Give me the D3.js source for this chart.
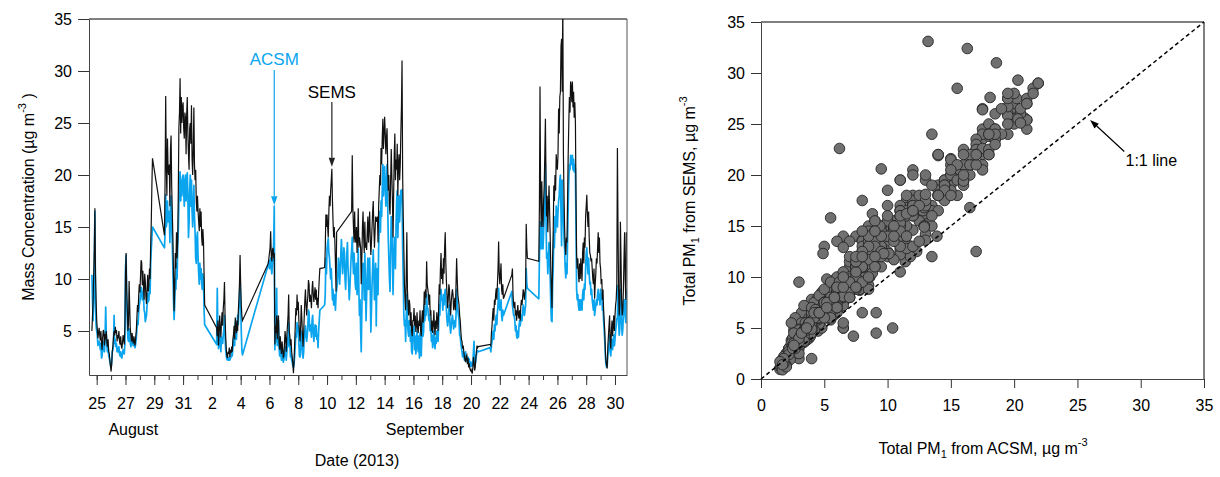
<!DOCTYPE html>
<html>
<head>
<meta charset="utf-8">
<script src="https://cdn.jsdelivr.net/npm/d3@7"></script>
<style>
  body { margin: 0; background: #fff; }
  svg { display: block; }
  text { font-family: "Liberation Sans", Arial, Helvetica, sans-serif; fill: #000; }
</style>
</head>
<body>
<svg id="fig" width="1220" height="477"></svg>
<script>
// Hourly PM1 mass concentration (µg m-3). One row per day; the first row starts
// at 24 Aug 2013 16:00, every other row at 00:00. null = no measurement.
const firstDay = new Date(2013, 7, 24);
const firstHour = 16;
const gap = n => Array(n).fill(null);

const semsHourly = [
  [5.0, 6.5, 8.0, 10.5, 12.8, 16.8, 10.5, 8.0],                                                                   // Aug 24
  [6.0, 5.2, 4.3, 4.8, 5.3, 4.6, 4.1, 5.0, 3.8, 3.2, 4.4, 5.1, 4.9, 3.6, 4.7, 4.2, 5.0, 3.9, 3.5, 4.2, 3.0, 2.8, 2.2, 1.6], // Aug 25
  [1.1, 1.8, 3.0, 3.6, 4.4, 5.0, 4.6, 5.4, 4.8, 5.1, 4.0, 4.6, 4.3, 5.0, 4.0, 3.7, 4.5, 3.6, 3.3, 3.9, 4.6, 4.2, 3.7, 5.5], // Aug 26
  [10.5, 12.5, 9.0, 7.2, 5.0, 5.6, 9.8, 7.4, 5.2, 4.6, 4.0, 4.8, 4.2, 3.8, 4.5, 4.0, 3.6, 4.4, 5.0, 6.3, 7.5, 6.8, 8.4, 9.5], // Aug 27
  [8.7, 10.2, 11.8, 11.6, 9.4, 10.8, 9.2, 8.0, 10.5, 9.8, 8.3, 7.6, 9.0, 10.4, 8.8, 9.5, 11.0, 10.0, 13.3, 15.5, 19.0, 21.6, null, null], // Aug 28
  [...gap(17), 14.2, 19.5, 27.6, 21.0, 18.0, 23.5, 20.5],                                                          // Aug 29
  [20.0, 21.0, 17.0, 22.5, 23.8, 19.0, 16.5, 14.0, 10.5, 6.9, 9.0, 12.5, 11.0, 14.5, 12.0, 13.6, 18.0, 24.5, 26.0, 29.3, 24.0, 27.5, 25.0, 26.5], // Aug 30
  [27.0, 24.5, 23.5, 26.0, 25.5, 22.0, 25.8, 27.5, 24.0, 22.0, 20.5, 24.5, 25.0, 23.0, 26.7, 21.5, 20.0, 22.5, 26.5, 21.0, 19.5, 20.5, 17.5, 16.5], // Aug 31
  [18.0, 16.5, 15.5, 14.6, 16.8, 15.0, 16.5, 14.0, 13.2, 14.8, 13.6, 10.5, 7.5, ...gap(11)],                       // Sep 1
  [...gap(8), 5.3, 4.5, 6.0, 3.6, 4.8, 6.5, 5.2, 4.4, 5.8, 6.8, 5.5, 7.2, 8.0, 9.7, 6.4, 4.5],                      // Sep 2
  [3.3, 2.6, 2.4, 3.0, 2.8, 3.4, 2.5, 3.2, 2.9, 3.5, 3.0, 4.2, 4.6, 5.5, 4.2, 6.3, 5.4, 4.8, 6.0, 5.0, 6.8, 8.0, 9.5, 12.3], // Sep 3
  [9.5, 7.5, 6.5, 6.0, ...gap(20)],                                                                               // Sep 4
  [...gap(22), 11.5, 12.0],                                                                                       // Sep 5
  [12.5, 13.0, 14.6, 12.2, 11.7, 12.8, 13.0, 12.0, 12.5, 3.7, 5.5, 4.8, 6.5, 4.2, 5.8, 6.5, 4.0, 3.2, 4.5, 3.5, 2.8, 4.0, 3.3, 2.5], // Sep 6
  [2.6, 3.8, 5.0, 4.2, 3.0, 4.6, 5.5, 6.5, 8.5, 5.0, 4.5, 3.6, 4.2, 3.0, 2.5, 1.8, 0.95, 2.2, 3.8, 5.5, 7.2, 6.5, 8.5, 7.0], // Sep 7
  [7.8, 6.0, 4.8, 4.0, 5.5, 7.5, 6.2, 4.6, 3.5, 4.8, 6.5, 8.0, 9.0, 7.4, 6.5, 7.6, 8.4, 9.9, 9.5, 7.8, 8.5, 8.0, 7.2, 9.0], // Sep 8
  [9.8, 8.6, 7.8, 8.5, 9.2, 8.0, 9.0, 7.5, 8.2, 7.2, 8.8, 10.0, 11.0, ...gap(7), 11.1, 12.9, 16.2, 15.0],          // Sep 9
  [16.2, 15.0, 14.0, 16.5, 18.0, 17.0, 18.5, 19.5, 20.6, 17.5, 15.5, 14.0, 15.0, 13.6, 11.5, 8.8, 14.5, ...gap(7)], // Sep 10
  [...gap(17), 16.5, 21.9, 17.0, 15.0, 13.5, 16.5, 14.0],                                                          // Sep 11
  [13.5, 15.0, 12.5, 14.0, 16.8, 13.0, 14.0, 13.5, 13.0, 9.5, 12.0, 15.0, 16.5, 14.0, 12.5, 15.5, 13.0, 13.5, 12.8, 14.5, 16.0, 13.5, 15.0, 16.5], // Sep 12
  [14.0, 12.3, 13.5, 15.0, 16.5, 17.5, 15.0, 13.0, 14.5, 16.0, 15.8, 15.5, 16.0, 13.5, 17.0, 18.5, 20.0, 19.0, 22.6, 21.0, 23.5, 25.4, 22.5, 24.0], // Sep 13
  [25.6, 24.0, 22.0, 23.5, 24.5, 21.0, 18.5, 20.0, 17.0, 16.2, 19.5, 22.5, 20.0, 17.5, 14.0, 18.0, 22.0, 24.0, 19.5, 21.5, 20.5, 23.0, 18.0, 21.0], // Sep 14
  [22.0, 19.5, 21.0, 24.0, 26.5, 31.0, 20.0, 16.0, 12.9, 9.5, 8.0, 7.0, 10.5, 14.5, 9.0, 7.5, 6.5, 8.0, 7.5, 5.5, 6.8, 5.0, 4.5, 6.0], // Sep 15
  [6.0, 7.2, 5.5, 6.5, 4.9, 5.5, 6.8, 5.2, 4.8, 6.0, 5.5, 7.0, 5.0, 4.5, 6.2, 7.0, 5.8, 6.5, 8.8, 7.5, 9.0, 8.2, 11.7, 9.5], // Sep 16
  [9.0, 8.5, 7.5, 8.5, 6.5, 7.0, 5.0, 6.0, 4.8, 5.5, 7.0, 5.5, 4.6, 6.0, 5.2, 6.8, 6.0, 5.0, 7.2, 9.5, 8.5, 11.0, 12.5, 10.0], // Sep 17
  [11.0, 9.5, 12.0, 10.5, 13.0, 14.5, 11.5, 9.7, 8.5, 7.2, 8.0, 9.5, 9.0, 7.5, 6.5, 7.8, 8.5, 9.0, 8.5, 7.0, 7.5, 8.2, 7.0, 9.5], // Sep 18
  [12.0, 10.0, 8.5, 8.0, 7.5, 6.5, 6.0, 5.0, 4.2, 4.0, 3.3, 3.6, 3.0, 2.5, 2.2, 2.0, 2.6, 2.7, 1.8, 2.4, 1.5, 1.9, 1.4, 1.2], // Sep 19
  [1.3, 1.1, 0.9, 1.5, 2.5, 2.0, 1.2, 1.5, 2.4, 3.0, 3.6, 3.4, 3.5, ...gap(11)],                                 // Sep 20
  [...gap(8), 3.7, 3.6, 4.8, 5.5, 6.5, 7.2, 6.0, 8.0, 7.5, 8.5, 9.1, 8.0, 9.5, 11.0, 13.6, 10.5],                  // Sep 21
  [9.5, 10.5, 11.5, 9.0, 8.5, 9.5, 8.1, ...gap(13), 10.4, 11.0, 8.5, 7.5],                                        // Sep 22
  [7.2, 7.8, 6.5, 7.0, 6.0, 6.8, 7.5, 6.5, 6.2, 7.0, 6.0, 7.4, 8.0, 7.5, 8.2, 9.0, 8.5, 8.0, 8.8, 9.1, 15.3, 13.0, 12.0, null], // Sep 23
  [...gap(17), 11.7, 17.0, 28.5, 18.0, 15.0, 19.4, 16.0],                                                          // Sep 24
  [15.0, 17.5, 19.0, 22.0, 25.4, 19.4, 16.0, 18.0, 14.5, 17.0, 19.0, 16.5, 14.0, 11.0, 9.0, 7.2, 12.0, 14.5, 19.0, 17.5, 20.0, 18.5, 22.0, 21.0], // Sep 25
  [20.5, 22.0, 26.4, 24.0, 27.5, 28.0, 32.4, 33.1, 28.0, 36.5, 22.0, 18.0, 14.9, 13.0, 12.3, 14.0, 13.5, 18.0, 22.0, 25.0, 27.5, 26.0, 29.0, 28.5], // Sep 26
  [27.0, 29.0, 26.5, 28.0, 25.5, 27.0, 25.1, 18.0, 12.3, 11.0, 12.0, 10.5, 9.7, 11.5, 10.0, 12.0, 11.0, 9.8, 12.5, 13.5, 11.5, 14.0, 13.0, 16.0], // Sep 27
  [17.0, 18.1, 16.2, 15.0, 16.5, 14.0, 12.5, 12.3, 11.7, 12.0, 11.0, 10.0, 9.5, 11.0, 8.1, 9.5, 10.5, 12.0, 11.5, 13.0, 14.5, 12.5, 14.0, 11.5], // Sep 28
  [11.0, 9.5, 10.0, 8.0, 9.0, 7.0, 6.0, 4.9, 3.0, 2.0, 1.7, 1.4, 3.5, 4.5, 5.5, 6.5, 4.0, 3.3, 5.0, 6.0, 4.5, 5.5, 6.5, 5.0], // Sep 29
  [6.5, 7.5, 8.0, 9.5, 22.6, 15.0, 9.0, 6.5, 7.5, 15.5, 12.0, 8.0, 6.5, 7.0, 9.0, 12.0, 14.5, 10.0, 8.0, 14.5]    // Sep 30
];

const acsmHourly = [
  [10.4, 8.0, 6.0, 8.0, 11.0, 16.5, 7.5, 5.5],                                                                    // Aug 24
  [5.0, 4.6, 3.6, 3.8, 4.0, 3.8, 3.2, 3.8, 2.4, 2.6, 3.3, 4.0, 3.2, 3.0, 4.5, 7.3, 4.8, 3.5, 3.0, 3.6, 2.6, 2.4, 2.0, 1.7], // Aug 25
  [1.5, 2.0, 3.0, 3.2, 3.6, 6.5, 3.8, 4.2, 3.5, 3.8, 3.0, 3.4, 3.0, 3.5, 2.8, 2.6, 3.0, 2.5, 2.4, 2.8, 3.2, 3.0, 2.8, 3.8], // Aug 26
  [11.0, 12.3, 8.0, 6.0, 4.3, 4.0, 5.2, 4.6, 3.8, 3.5, 3.8, 4.2, 3.9, 3.6, 4.0, 3.6, 3.4, 3.8, 4.3, 5.2, 6.0, 5.6, 6.8, 7.5], // Aug 27
  [7.8, 8.5, 9.2, 9.0, 8.0, 8.8, 8.5, 7.0, 6.8, 5.9, 6.2, 6.5, 7.5, 8.6, 7.8, 8.0, 9.5, 8.6, 11.5, 12.8, 14.0, 15.0, null, null], // Aug 28
  [...gap(17), 13.0, 14.5, 18.1, 15.0, 15.5, 17.5, 15.5],                                                          // Aug 29
  [15.8, 16.5, 13.5, 17.0, 18.0, 15.0, 13.5, 11.0, 8.0, 6.1, 7.5, 10.0, 9.0, 11.5, 10.0, 13.0, 14.5, 17.5, 18.5, 20.3, 17.5, 19.5, 18.0, 19.8], // Aug 30
  [20.0, 18.5, 17.0, 19.5, 20.0, 17.5, 19.5, 20.2, 18.0, 14.0, 15.5, 18.5, 20.0, 17.0, 19.5, 16.5, 15.0, 17.0, 19.0, 16.0, 14.5, 12.0, 11.5, 14.0], // Aug 31
  [14.5, 12.0, 10.5, 9.5, 11.5, 10.0, 11.0, 9.5, 9.0, 10.5, 10.0, 7.0, 5.6, ...gap(11)],                           // Sep 1
  [...gap(8), 3.7, 9.1, 5.0, 3.3, 3.6, 4.8, 3.9, 3.0, 4.4, 4.0, 3.8, 4.6, 5.2, 6.5, 4.4, 3.2],                      // Sep 2
  [2.6, 2.3, 2.2, 2.4, 2.2, 2.5, 2.2, 2.4, 2.5, 3.0, 2.6, 3.4, 4.0, 4.5, 3.6, 5.8, 4.6, 4.2, 5.5, 6.5, 5.6, 7.0, 8.0, 10.1], // Sep 3
  [7.8, 5.0, 3.2, 2.7, ...gap(20)],                                                                               // Sep 4
  [...gap(22), 11.4, 11.8],                                                                                       // Sep 5
  [11.0, 11.5, 12.0, 11.0, 10.5, 11.5, 12.0, 13.5, 17.0, 3.2, 6.5, 4.0, 9.1, 3.6, 5.5, 6.0, 3.4, 2.6, 3.6, 2.8, 2.2, 3.0, 2.6, 2.0], // Sep 6
  [2.2, 2.8, 3.5, 3.0, 2.2, 3.0, 3.6, 4.5, 5.8, 3.5, 4.0, 2.5, 2.8, 2.2, 2.0, 1.6, 1.5, 1.8, 2.6, 3.6, 4.8, 4.4, 5.8, 5.0], // Sep 7
  [5.5, 3.8, 2.6, 2.5, 3.5, 5.0, 4.0, 2.8, 2.4, 3.0, 4.2, 5.0, 5.5, 4.5, 4.0, 4.6, 5.5, 7.0, 6.8, 5.0, 5.6, 5.4, 4.4, 6.0], // Sep 8
  [6.5, 5.0, 4.0, 4.8, 5.6, 4.5, 5.5, 4.2, 4.6, 3.4, 5.0, 6.0, 7.0, ...gap(7), 7.5, 8.5, 12.0, 10.5],              // Sep 9
  [12.9, 13.5, 13.9, 12.5, 12.0, 11.0, 10.0, 11.0, 9.5, 8.0, 9.0, 7.5, 8.5, 8.0, 7.0, 8.5, 9.0, 9.5, 10.5, 12.0, 11.0, 9.5, 10.8, 12.5], // Sep 10
  [13.8, 12.0, 10.5, 11.5, 13.0, 12.5, 10.0, 9.0, 11.0, 12.5, 13.5, 11.0, 9.5, 8.0, 9.0, 10.5, 12.0, 12.8, 14.0, 12.0, 10.5, 12.5, 11.0, 9.5], // Sep 11
  [9.0, 11.5, 8.5, 10.0, 12.9, 9.0, 6.5, 8.0, 5.0, 3.0, 7.0, 11.0, 11.5, 10.0, 8.0, 12.5, 9.5, 6.0, 8.5, 10.5, 12.0, 9.0, 10.5, 12.0], // Sep 12
  [9.0, 4.9, 7.0, 9.5, 11.0, 12.8, 10.5, 8.0, 9.5, 11.5, 5.5, 10.0, 11.0, 8.5, 13.0, 15.0, 16.5, 14.5, 17.5, 16.0, 18.5, 21.0, 18.0, 19.5], // Sep 13
  [20.8, 19.0, 17.0, 18.5, 21.0, 17.5, 14.0, 12.0, 10.0, 8.8, 13.0, 16.0, 15.0, 12.0, 8.5, 11.5, 14.0, 13.5, 11.0, 15.0, 17.5, 18.5, 14.0, 16.5], // Sep 14
  [18.0, 15.5, 17.0, 18.5, 17.5, 18.6, 13.0, 10.0, 6.5, 5.5, 6.0, 4.0, 6.5, 8.5, 6.0, 5.0, 4.5, 6.0, 5.5, 4.0, 5.0, 3.0, 2.8, 4.5], // Sep 15
  [4.5, 5.5, 3.2, 4.5, 2.8, 3.5, 5.0, 3.8, 3.0, 4.5, 2.4, 4.8, 3.5, 2.6, 4.5, 6.0, 4.5, 5.0, 7.5, 6.0, 7.0, 6.5, 8.5, 7.2], // Sep 16
  [7.2, 6.5, 6.0, 6.5, 5.0, 5.5, 4.0, 4.6, 3.4, 4.0, 5.0, 3.8, 3.3, 4.4, 3.8, 5.0, 4.5, 4.0, 5.5, 7.5, 6.5, 8.5, 9.0, 8.0], // Sep 17
  [8.0, 7.0, 8.5, 7.5, 8.5, 9.0, 8.0, 7.0, 6.0, 5.5, 6.0, 7.0, 7.5, 5.5, 4.8, 5.5, 6.0, 6.5, 6.0, 5.2, 5.6, 6.0, 5.4, 6.5], // Sep 18
  [9.0, 7.5, 7.0, 6.5, 6.0, 4.6, 4.5, 3.8, 3.4, 3.0, 2.5, 3.0, 2.6, 2.2, 2.8, 3.0, 2.4, 2.2, 2.0, 2.5, 2.0, 2.3, 1.8, 1.6], // Sep 19
  [2.0, 1.6, 1.7, 1.9, 3.0, 4.0, 2.0, 1.8, 2.2, 2.7, 3.0, 3.1, 3.0, ...gap(11)],                                 // Sep 20
  [...gap(8), 3.4, 3.0, 3.6, 4.0, 4.6, 5.0, 4.2, 5.6, 5.0, 6.0, 6.5, 5.6, 6.8, 7.5, 9.1, 7.5],                      // Sep 21
  [7.0, 7.5, 8.0, 6.5, 6.0, 7.0, 6.5, ...gap(13), 8.8, 7.5, 7.0, 6.5],                                            // Sep 22
  [6.5, 6.0, 5.0, 5.5, 4.5, 4.3, 5.0, 4.4, 5.5, 6.0, 5.5, 6.0, 6.5, 6.0, 6.8, 7.5, 7.0, 6.5, 7.0, 7.5, 11.0, 9.5, 9.1, null], // Sep 23
  [...gap(17), 8.1, 12.0, 15.5, 14.0, 12.9, 16.0, 13.5],                                                           // Sep 24
  [12.9, 14.5, 16.0, 18.0, 21.0, 16.0, 12.0, 12.5, 10.5, 12.0, 13.5, 12.0, 10.0, 7.5, 6.0, 5.9, 9.5, 11.0, 14.5, 13.0, 16.0, 14.5, 17.0, 15.5], // Sep 25
  [15.0, 16.5, 17.5, 18.0, 19.5, 20.0, 16.3, 13.2, 19.5, null, 16.0, 14.0, 12.9, 11.0, 10.1, 11.5, 10.5, 14.0, 17.0, 19.5, 21.0, 20.5, 21.9, 21.5], // Sep 26
  [21.0, 21.9, 20.5, 21.5, 20.3, 21.0, 20.5, 15.0, 9.0, 8.0, 8.5, 7.5, 7.0, 8.0, 7.0, 8.0, 7.5, 7.0, 8.5, 9.0, 8.0, 9.5, 9.0, 11.0], // Sep 27
  [12.5, 13.0, 11.5, 10.5, 12.0, 10.5, 9.5, 9.7, 8.5, 9.0, 8.0, 7.5, 7.0, 8.0, 6.5, 7.0, 7.5, 8.0, 7.5, 8.5, 9.0, 8.0, 8.5, 7.5], // Sep 28
  [9.0, 8.0, 8.5, 7.0, 7.5, 6.0, 5.0, 4.0, 2.5, 1.8, 1.5, 1.7, 2.6, 3.2, 3.8, 4.6, 3.0, 2.6, 3.6, 4.2, 3.2, 3.8, 4.6, 3.6], // Sep 29
  [4.2, 5.0, 5.5, 6.2, 6.2, 9.4, 6.0, 4.6, 5.2, 9.0, 7.5, 5.8, 4.6, 5.2, 6.5, 8.0, 8.0, 6.5, 5.8, 9.0]             // Sep 30
];

const massTicks = [5, 10, 15, 20, 25, 30, 35];
const dateTickDays = ["2013-08-25", "2013-08-27", "2013-08-29", "2013-08-31", "2013-09-02",
  "2013-09-04", "2013-09-06", "2013-09-08", "2013-09-10", "2013-09-12", "2013-09-14",
  "2013-09-16", "2013-09-18", "2013-09-20", "2013-09-22", "2013-09-24", "2013-09-26",
  "2013-09-28", "2013-09-30"];
const monthNames = ["August", "September"];
const monthLabelTimes = ["2013-08-27T13:00", "2013-09-16T19:00"];
const scatterTicks = [0, 5, 10, 15, 20, 25, 30, 35];
// hours whose peaks carry the instrument labels
const acsmNoteTime = "2013-09-06T08:00";
const semsNoteTime = "2013-09-10T08:00";

const acsmColor = "#0aa5ee";
const semsColor = "#111111";

const svg = d3.select("#fig");
const parseDay = d3.timeParse("%Y-%m-%d");
const parseHour = d3.timeParse("%Y-%m-%dT%H:%M");

// flatten day rows into timestamped records
const toRecords = rows => rows.flatMap((vals, d) => vals.map((v, i) => ({
  t: d3.timeHour.offset(d3.timeDay.offset(firstDay, d), (d === 0 ? firstHour : 0) + i),
  v
})));
const semsRecords = toRecords(semsHourly);
const acsmRecords = toRecords(acsmHourly);

/* ---------------- time series panel ---------------- */
const L = { left: 89, right: 627, top: 19, bottom: 375 };
const x = d3.scaleTime()
  .domain([new Date(2013, 7, 24, 11, 10), new Date(2013, 8, 30, 20, 0)])
  .range([L.left, L.right]);
const y = d3.scaleLinear().domain([0.77, 35]).range([L.bottom, L.top]);

const left = svg.append("g");
left.append("clipPath").attr("id", "tsclip")
  .append("rect").attr("x", L.left).attr("y", L.top)
  .attr("width", L.right - L.left).attr("height", L.bottom - L.top);

const line = d3.line().x(d => x(d.t)).y(d => y(d.v));
const plot = left.append("g").attr("clip-path", "url(#tsclip)");
plot.append("path")
  .attr("d", line(acsmRecords.filter(d => d.v !== null)))
  .attr("fill", "none").attr("stroke", acsmColor)
  .attr("stroke-width", 1.7).attr("stroke-linejoin", "round");
plot.append("path")
  .attr("d", line(semsRecords.filter(d => d.v !== null)))
  .attr("fill", "none").attr("stroke", semsColor)
  .attr("stroke-width", 1.2);

// frame top/right
left.append("line").attr("x1", L.left).attr("x2", L.right).attr("y1", L.top).attr("y2", L.top)
  .attr("stroke", "#000");
left.append("line").attr("x1", L.right).attr("x2", L.right).attr("y1", L.top).attr("y2", L.bottom)
  .attr("stroke", "#555");

left.append("g").attr("transform", `translate(${L.left},0)`)
  .call(d3.axisLeft(y).tickValues(massTicks).tickSize(11).tickSizeOuter(0).tickPadding(6));
// daily minor ticks plus labelled ticks every two days
const minorDays = d3.timeDay.range(parseDay("2013-08-25"), parseDay("2013-10-01"));
left.append("g").attr("transform", `translate(0,${L.bottom})`)
  .call(d3.axisBottom(x).tickValues(minorDays).tickSize(5).tickFormat(""))
  .call(g => g.select(".domain").remove());
left.append("g").attr("transform", `translate(0,${L.bottom})`)
  .call(d3.axisBottom(x).tickValues(dateTickDays.map(parseDay)).tickSize(10)
    .tickSizeOuter(0).tickPadding(13).tickFormat(d3.timeFormat("%-d")));

left.selectAll("text.month").data(monthNames).join("text")
  .attr("class", "month")
  .attr("x", (d, i) => x(parseHour(monthLabelTimes[i])))
  .attr("y", 435).attr("text-anchor", "middle")
  .style("font-size", "16px").text(d => d);

left.append("text").attr("x", 357).attr("y", 466).attr("text-anchor", "middle")
  .style("font-size", "16px").text("Date (2013)");

const yTitle = left.append("text")
  .attr("transform", "translate(34,197) rotate(-90)")
  .attr("text-anchor", "middle").style("font-size", "16px");
yTitle.append("tspan").text("Mass Concentration (µg m");
yTitle.append("tspan").attr("dy", -8).style("font-size", "11px").text("-3");
yTitle.append("tspan").attr("dy", 8).text(" )");

function arrow(g, x1, y1, x2, y2, color) {
  const ang = Math.atan2(y2 - y1, x2 - x1);
  const len = 9, half = 3.2;
  const bx = x2 - len * Math.cos(ang), by = y2 - len * Math.sin(ang);
  g.append("line").attr("x1", x1).attr("y1", y1).attr("x2", bx).attr("y2", by)
    .attr("stroke", color).attr("stroke-width", 1.2);
  g.append("path")
    .attr("d", `M${x2},${y2}L${bx - half * Math.sin(ang)},${by + half * Math.cos(ang)}` +
      `L${bx + half * Math.sin(ang)},${by - half * Math.cos(ang)}Z`)
    .attr("fill", color);
}

const findRec = (recs, s) => recs.find(d => +d.t === +parseHour(s));
const acsmNote = findRec(acsmRecords, acsmNoteTime);
const semsNote = findRec(semsRecords, semsNoteTime);
left.append("text").attr("x", x(acsmNote.t)).attr("y", 65).attr("text-anchor", "middle")
  .style("font-size", "17px").style("fill", acsmColor).text("ACSM");
arrow(left, x(acsmNote.t), 70, x(acsmNote.t), y(acsmNote.v) - 1, acsmColor);
left.append("text").attr("x", x(semsNote.t)).attr("y", 98).attr("text-anchor", "middle")
  .style("font-size", "17px").text("SEMS");
arrow(left, x(semsNote.t), 102, x(semsNote.t), y(semsNote.v) - 2, "#222");

/* ---------------- scatter panel ---------------- */
const R = { left: 761, right: 1204, top: 22, bottom: 379 };
const sxScale = d3.scaleLinear().domain([0, 35]).range([R.left, R.right]);
const syScale = d3.scaleLinear().domain([0, 35]).range([R.bottom, R.top]);
const right = svg.append("g");

// paired hours where both instruments report
const pairs = semsRecords.map((s, i) => ({ a: acsmRecords[i].v, s: s.v }))
  .filter(d => d.a !== null && d.s !== null && d.s <= 35);

right.append("line").attr("x1", R.left).attr("x2", R.right).attr("y1", R.top).attr("y2", R.top)
  .attr("stroke", "#000");
right.append("line").attr("x1", R.right).attr("x2", R.right).attr("y1", R.top).attr("y2", R.bottom)
  .attr("stroke", "#000");

right.append("g").attr("transform", `translate(${R.left},0)`)
  .call(d3.axisLeft(syScale).tickValues(scatterTicks).tickSize(10).tickSizeOuter(0).tickPadding(6));
right.append("g").attr("transform", `translate(0,${R.bottom})`)
  .call(d3.axisBottom(sxScale).tickValues(scatterTicks).tickSize(9).tickSizeOuter(0).tickPadding(12));

right.append("g").selectAll("circle").data(pairs).join("circle")
  .attr("cx", d => sxScale(d.a)).attr("cy", d => syScale(d.s)).attr("r", 5.3)
  .attr("fill", "#707070").attr("stroke", "#262626").attr("stroke-width", 0.9);

right.append("line")
  .attr("x1", sxScale(0)).attr("y1", syScale(0)).attr("x2", sxScale(35)).attr("y2", syScale(35))
  .attr("stroke", "#000").attr("stroke-width", 1.5).attr("stroke-dasharray", "4,3");
right.append("text").attr("x", sxScale(28.8)).attr("y", 166).style("font-size", "16px").text("1:1 line");
arrow(right, sxScale(28.7), syScale(22.3), sxScale(26.0), syScale(25.4), "#000");

const xTitleR = right.append("text").attr("x", 983).attr("y", 454)
  .attr("text-anchor", "middle").style("font-size", "16px");
xTitleR.append("tspan").text("Total PM");
xTitleR.append("tspan").attr("dy", 4).style("font-size", "11px").text("1");
xTitleR.append("tspan").attr("dy", -4).text(" from ACSM, µg m");
xTitleR.append("tspan").attr("dy", -8).style("font-size", "11px").text("-3");

const yTitleR = right.append("text").attr("transform", "translate(695,201) rotate(-90)")
  .attr("text-anchor", "middle").style("font-size", "16px");
yTitleR.append("tspan").text("Total PM");
yTitleR.append("tspan").attr("dy", 4).style("font-size", "11px").text("1");
yTitleR.append("tspan").attr("dy", -4).text(" from SEMS, µg m");
yTitleR.append("tspan").attr("dy", -8).style("font-size", "11px").text("-3");

svg.selectAll(".tick text").style("font-size", "16px").style("font-family", "'Liberation Sans', Arial, sans-serif");
svg.selectAll(".domain").attr("stroke", "#444");
svg.selectAll(".tick line").attr("stroke", "#333");
</script>
</body>
</html>
